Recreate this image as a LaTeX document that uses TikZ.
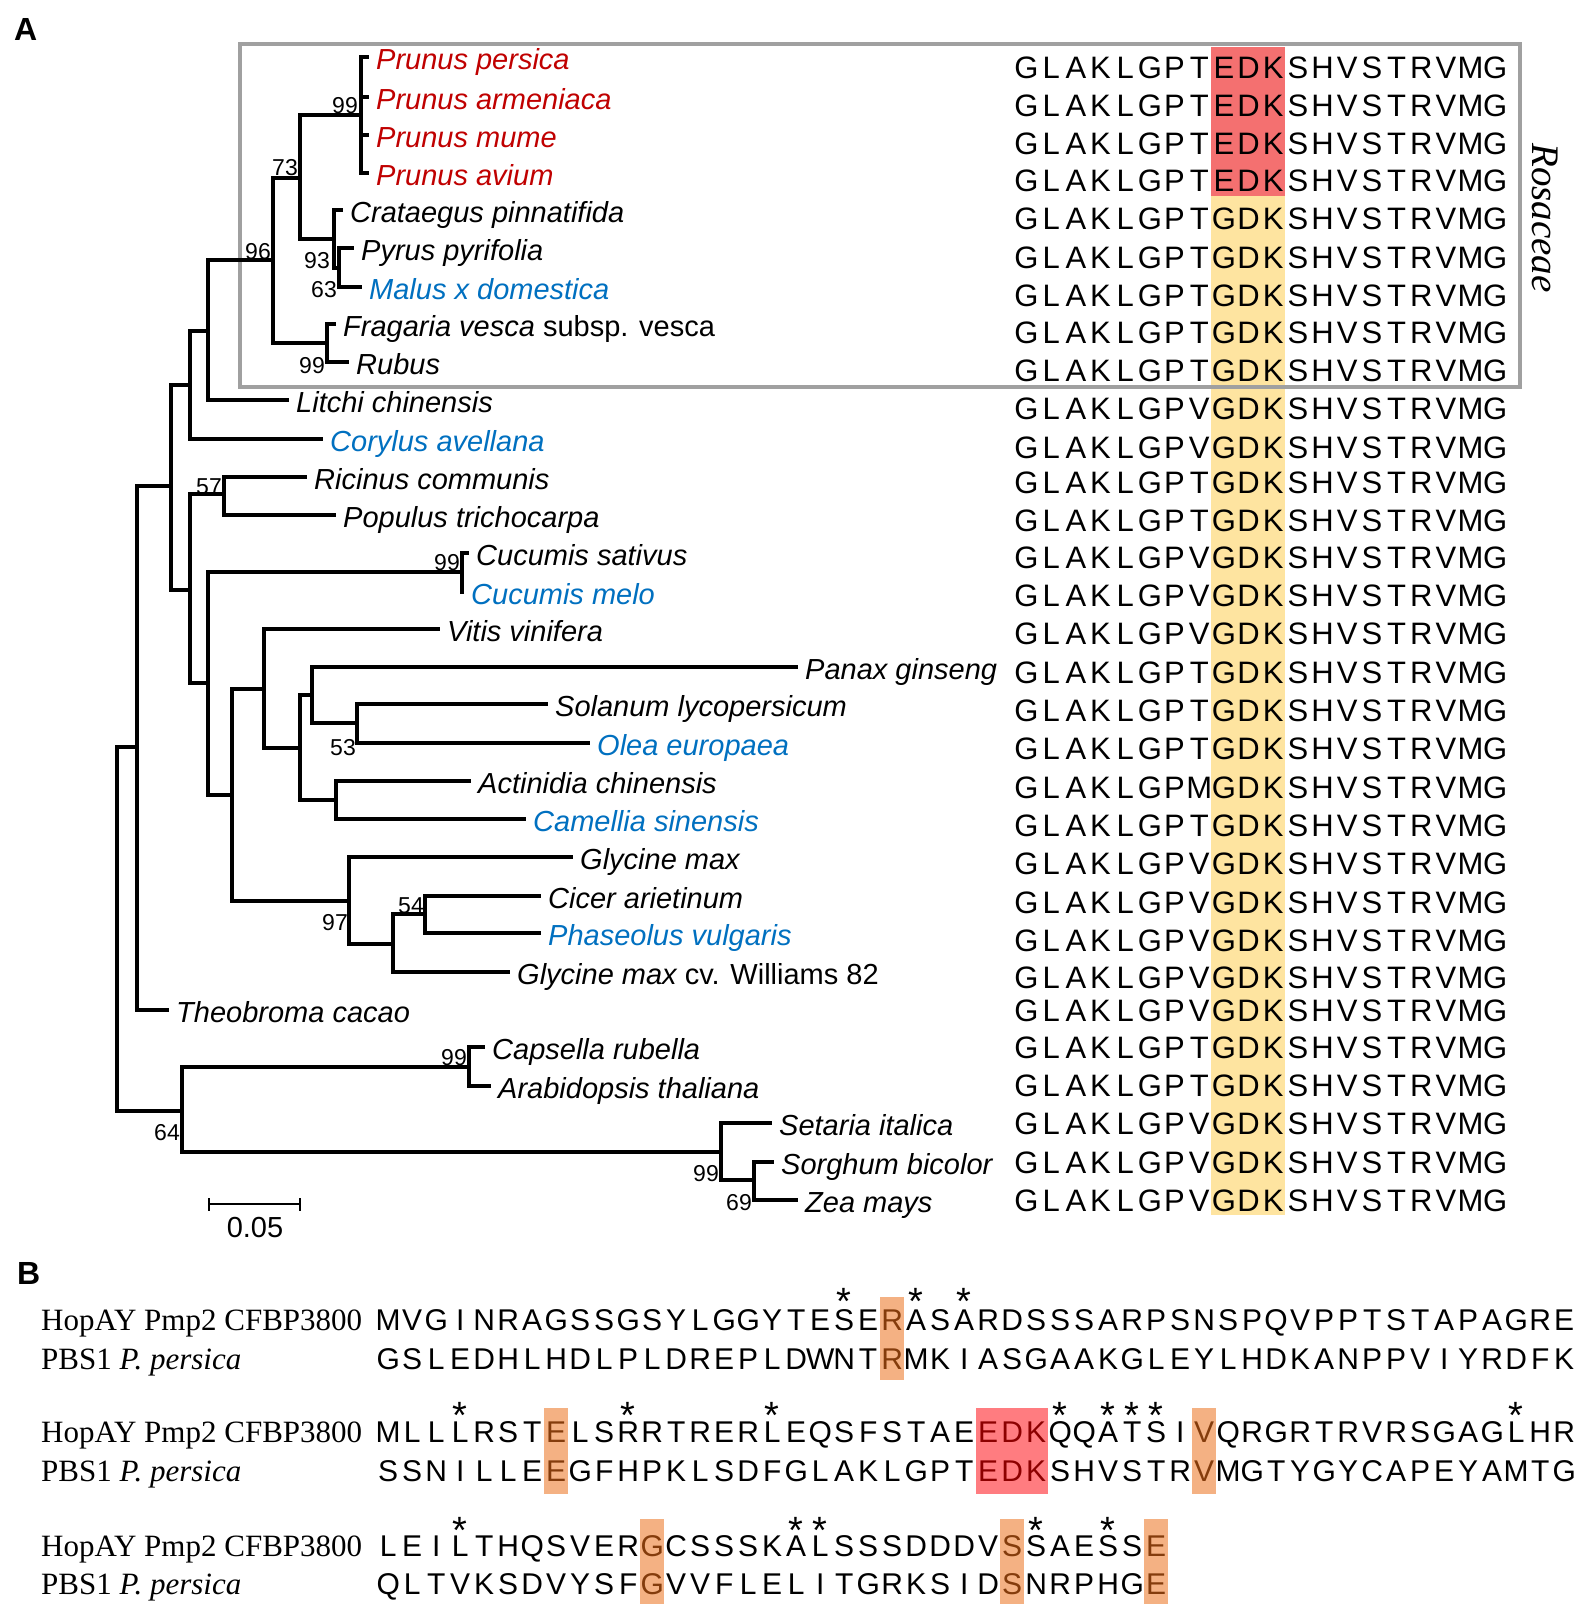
\documentclass[tikz,border=0pt]{standalone}
\usepackage{fontspec}
\setmainfont{Liberation Sans}
\newfontfamily\serfont{Liberation Serif}
\definecolor{redtxt}{RGB}{192,0,0}
\definecolor{bluetxt}{RGB}{0,112,192}
\definecolor{hlred}{RGB}{244,112,112}
\definecolor{hlyel}{RGB}{254,228,160}
\definecolor{hlredb}{RGB}{255,124,128}
\definecolor{hlor}{RGB}{244,177,131}
\definecolor{brn}{RGB}{132,60,12}
\definecolor{drd}{RGB}{140,0,0}
\definecolor{boxgray}{RGB}{160,160,160}
\newlength\seqcell
\makeatletter
\def\sq@loop#1{\ifx\relax#1\else\makebox[\seqcell]{#1}\expandafter\sq@loop\fi}
\newcommand\seqA[1]{\setlength\seqcell{24.67pt}\sq@loop#1\relax}
\newcommand\seqB[1]{\setlength\seqcell{24pt}\sq@loop#1\relax}
\makeatother
\newcommand\hc{\color{brn}}
\newcommand\hr{\color{drd}}
\tikzset{
  tree/.style={line width=3.5pt, line cap=rect, line join=miter},
  sp/.style={anchor=base west, inner sep=0pt, font=\fontsize{29}{34}\selectfont\itshape},
  boot/.style={anchor=base east, inner sep=0pt, font=\fontsize{23}{26}\selectfont},
  seqa/.style={anchor=base west, inner sep=0pt, font=\fontsize{31}{36}\selectfont},
  seqb/.style={anchor=base west, inner sep=0pt, font=\fontsize{30}{34}\selectfont},
  nm/.style={anchor=base west, inner sep=0pt, font=\serfont\fontsize{31}{36}\selectfont},
  ast/.style={anchor=base, inner sep=0pt, font=\fontsize{38}{40}\selectfont},
  panel/.style={anchor=base west, inner sep=0pt, font=\fontsize{32}{36}\selectfont\bfseries},
}
\begin{document}
\begin{tikzpicture}[x=1pt,y=-1pt]
\fill[white] (0,0) rectangle (1583,1612);
\useasboundingbox (0,0) rectangle (1583,1612);

% panel labels
\node[panel] (pA) at (14,40) {A};
\node[panel] (pB) at (17,1284) {B};

% highlight column in A
\fill[hlred] (1211,47) rectangle (1285,196);
\fill[hlyel] (1211,196) rectangle (1285,1215);

% Rosaceae box
\draw[boxgray, line width=4pt] (240,44) rectangle (1520,387);
\node[rotate=-90, inner sep=0pt, font=\serfont\itshape\fontsize{39}{42}\selectfont] (ros) at (1545,218) {Rosaceae};

% tree coordinates
\coordinate (r0) at (117,929);
\coordinate (nA) at (137,747);
\coordinate (nB) at (182,1111);
\coordinate (n171) at (171,486);
\coordinate (t26) at (167,1010);
\coordinate (nU) at (190,385);
\coordinate (nL) at (190,590);
\coordinate (n208a) at (208,331);
\coordinate (t11) at (321,439);
\coordinate (n273) at (273,260);
\coordinate (t10) at (287,400);
\coordinate (n300) at (300,178);
\coordinate (nFr) at (327,343);
\coordinate (nPr) at (361,115);
\coordinate (nCr) at (334,239);
\coordinate (t1) at (367,57);
\coordinate (t2) at (367,97);
\coordinate (t3) at (367,135);
\coordinate (t4) at (367,173);
\coordinate (t5) at (341,210);
\coordinate (nPM) at (339,268);
\coordinate (t6) at (352,248);
\coordinate (t7) at (360,287);
\coordinate (t8) at (334,324);
\coordinate (t9) at (347,362);
\coordinate (n224) at (224,494);
\coordinate (n208b) at (208,683);
\coordinate (t12) at (305,477);
\coordinate (t13) at (334,515);
\coordinate (nCu) at (462,572);
\coordinate (n232) at (232,795);
\coordinate (t14) at (467,553);
\coordinate (t15) at (462,592);
\coordinate (n264) at (264,689);
\coordinate (n349) at (349,901);
\coordinate (t16) at (438,629);
\coordinate (n300b) at (300,748);
\coordinate (n312) at (312,695);
\coordinate (nAc) at (336,800);
\coordinate (t17) at (796,667);
\coordinate (n357) at (357,723);
\coordinate (t18) at (546,704);
\coordinate (t19) at (588,743);
\coordinate (t20) at (469,781);
\coordinate (t21) at (524,819);
\coordinate (t22) at (571,857);
\coordinate (n393) at (393,944);
\coordinate (n425) at (425,914);
\coordinate (t25) at (508,972);
\coordinate (t23) at (539,896);
\coordinate (t24) at (539,933);
\coordinate (nCa) at (469,1067);
\coordinate (nGr) at (721,1152);
\coordinate (t27) at (483,1047);
\coordinate (t28) at (489,1086);
\coordinate (t29) at (770,1123);
\coordinate (nSZ) at (754,1180);
\coordinate (t30) at (772,1162);
\coordinate (t31) at (796,1200);

\draw[tree] (r0) |- (nA) (r0) |- (nB)
 (nA) |- (n171) (nA) |- (t26)
 (n171) |- (nU) (n171) |- (nL)
 (nU) |- (n208a) (nU) |- (t11)
 (n208a) |- (n273) (n208a) |- (t10)
 (n273) |- (n300) (n273) |- (nFr)
 (n300) |- (nPr) (n300) |- (nCr)
 (nPr) |- (t1) (nPr) |- (t2) (nPr) |- (t3) (nPr) |- (t4)
 (nCr) |- (t5) (nCr) |- (nPM)
 (nPM) |- (t6) (nPM) |- (t7)
 (nFr) |- (t8) (nFr) |- (t9)
 (nL) |- (n224) (nL) |- (n208b)
 (n224) |- (t12) (n224) |- (t13)
 (n208b) |- (nCu) (n208b) |- (n232)
 (nCu) |- (t14) (nCu) |- (t15)
 (n232) |- (n264) (n232) |- (n349)
 (n264) |- (t16) (n264) |- (n300b)
 (n300b) |- (n312) (n300b) |- (nAc)
 (n312) |- (t17) (n312) |- (n357)
 (n357) |- (t18) (n357) |- (t19)
 (nAc) |- (t20) (nAc) |- (t21)
 (n349) |- (t22) (n349) |- (n393)
 (n393) |- (n425) (n393) |- (t25)
 (n425) |- (t23) (n425) |- (t24)
 (nB) |- (nCa) (nB) |- (nGr)
 (nCa) |- (t27) (nCa) |- (t28)
 (nGr) |- (t29) (nGr) |- (nSZ)
 (nSZ) |- (t30) (nSZ) |- (t31);

% species labels
\tikzset{lab/.style={sp, xshift=9pt, yshift=-12pt}}
\node[lab, redtxt] (l1) at (t1) {Prunus persica};
\node[lab, redtxt] (l2) at (t2) {Prunus armeniaca};
\node[lab, redtxt] (l3) at (t3) {Prunus mume};
\node[lab, redtxt] (l4) at (t4) {Prunus avium};
\node[lab] (l5) at (t5) {Crataegus pinnatifida};
\node[lab] (l6) at (t6) {Pyrus pyrifolia};
\node[lab, bluetxt] (l7) at (t7) {Malus x domestica};
\node[lab] (l8) at (t8) {Fragaria vesca \upshape subsp. vesca};
\node[lab] (l9) at (t9) {Rubus};
\node[lab] (l10) at (t10) {Litchi chinensis};
\node[lab, bluetxt] (l11) at (t11) {Corylus avellana};
\node[lab] (l12) at (t12) {Ricinus communis};
\node[lab] (l13) at (t13) {Populus trichocarpa};
\node[lab] (l14) at (t14) {Cucumis sativus};
\node[lab, bluetxt] (l15) at (t15) {Cucumis melo};
\node[lab] (l16) at (t16) {Vitis vinifera};
\node[lab] (l17) at (t17) {Panax ginseng};
\node[lab] (l18) at (t18) {Solanum lycopersicum};
\node[lab, bluetxt] (l19) at (t19) {Olea europaea};
\node[lab] (l20) at (t20) {Actinidia chinensis};
\node[lab, bluetxt] (l21) at (t21) {Camellia sinensis};
\node[lab] (l22) at (t22) {Glycine max};
\node[lab] (l23) at (t23) {Cicer arietinum};
\node[lab, bluetxt] (l24) at (t24) {Phaseolus vulgaris};
\node[lab] (l25) at (t25) {Glycine max \upshape cv. Williams 82};
\node[lab] (l26) at (t26) {Theobroma cacao};
\node[lab] (l27) at (t27) {Capsella rubella};
\node[lab] (l28) at (t28) {Arabidopsis thaliana};
\node[lab] (l29) at (t29) {Setaria italica};
\node[lab] (l30) at (t30) {Sorghum bicolor};
\node[lab] (l31) at (t31) {Zea mays};

% bootstrap values
\node[boot] (b1) at (358,113) {99};
\node[boot] (b2) at (298,175) {73};
\node[boot] (b3) at (330,268) {93};
\node[boot] (b4) at (337,297) {63};
\node[boot] (b5) at (325,373) {99};
\node[boot] (b6) at (271,259) {96};
\node[boot] (b7) at (222,494) {57};
\node[boot] (b8) at (460,570) {99};
\node[boot] (b9) at (356,755) {53};
\node[boot] (b10) at (348,930) {97};
\node[boot] (b11) at (424,913) {54};
\node[boot] (b12) at (467,1065) {99};
\node[boot] (b13) at (180,1140) {64};
\node[boot] (b14) at (719,1181) {99};
\node[boot] (b15) at (752,1210) {69};

% scale bar
\coordinate (sb1) at (209,1204);
\coordinate (sb2) at (300,1204);
\draw[line width=2pt] (sb1) -- (sb2);
\draw[line width=2pt] ([yshift=6pt]sb1) -- ([yshift=-7pt]sb1);
\draw[line width=2pt] ([yshift=6pt]sb2) -- ([yshift=-7pt]sb2);
\node[inner sep=0pt, font=\fontsize{29}{32}\selectfont] (sbl) at (255,1228) {0.05};

% sequences in A
\foreach \yy/\sqv/\sqe [count=\i] in {67/T/E,105/T/E,143/T/E,180/T/E,218/T/G,257/T/G,295/T/G,332/T/G,370/T/G,408/V/G,447/V/G,482/T/G,520/T/G,557/V/G,595/V/G,633/V/G,672/T/G,710/T/G,748/T/G,787/M/G,825/T/G,863/V/G,902/V/G,940/V/G,977/V/G,1010/V/G,1047/T/G,1085/T/G,1123/V/G,1162/V/G,1200/V/G}
  \node[seqa] (s\i) at (1014,\yy+11) {\seqA{GLAKLGP\sqv\sqe DKSHVSTRVMG}};

% panel B highlights
\fill[hlor] (880,1297) rectangle (904,1380);
\fill[hlor] (544,1408) rectangle (568,1494);
\fill[hlredb] (976,1408) rectangle (1048,1494);
\fill[hlor] (1192,1408) rectangle (1216,1494);
\fill[hlor] (640,1519) rectangle (664,1604);
\fill[hlor] (1000,1519) rectangle (1024,1604);
\fill[hlor] (1144,1519) rectangle (1168,1604);

% panel B names
\node[nm] (h1) at (41,1330) {HopAY Pmp2 CFBP3800};
\node[nm] (q1) at (41,1369) {PBS1 \textit{P. persica}};
\node[nm] (h2) at (41,1442) {HopAY Pmp2 CFBP3800};
\node[nm] (q2) at (41,1481) {PBS1 \textit{P. persica}};
\node[nm] (h3) at (41,1556) {HopAY Pmp2 CFBP3800};
\node[nm] (q3) at (41,1594) {PBS1 \textit{P. persica}};

% panel B sequences
\node[seqb] (r1a) at (376,1330) {\seqB{MVGINRAGSSGSYLGGYTESE{\hc R}ASARDSSSARPSNSPQVPPTSTAPAGRE}};
\node[seqb] (r1b) at (376,1369) {\seqB{GSLEDHLHDLPLDREPLDWNT{\hc R}MKIASGAAKGLEYLHDKANPPVIYRDFK}};
\node[seqb] (r2a) at (376,1442) {\seqB{MLLLRST{\hc E}LSRRTRERLEQSFSTAE{\hr E}{\hr D}{\hr K}QQATSI{\hc V}QRGRTRVRSGAGLHR}};
\node[seqb] (r2b) at (376,1481) {\seqB{SSNILLE{\hc E}GFHPKLSDFGLAKLGPT{\hr E}{\hr D}{\hr K}SHVSTR{\hc V}MGTYGYCAPEYAMTG}};
\node[seqb] (r3a) at (376,1556) {\seqB{LEILTHQSVER{\hc G}CSSSKALSSSDDDV{\hc S}SAESS{\hc E}}};
\node[seqb] (r3b) at (376,1594) {\seqB{QLTVKSDVYSF{\hc G}VVFLELITGRKSID{\hc S}NRPHG{\hc E}}};

% asterisks
\foreach \k in {20,23,25} \node[ast] (aa\k) at ({376+(\k-0.5)*24},1314) {*};
\foreach \k in {4,11,17,29,31,32,33,48} \node[ast] (ab\k) at ({376+(\k-0.5)*24},1428) {*};
\foreach \k in {4,18,19,28,31} \node[ast] (ac\k) at ({376+(\k-0.5)*24},1543) {*};
\end{tikzpicture}
\end{document}
